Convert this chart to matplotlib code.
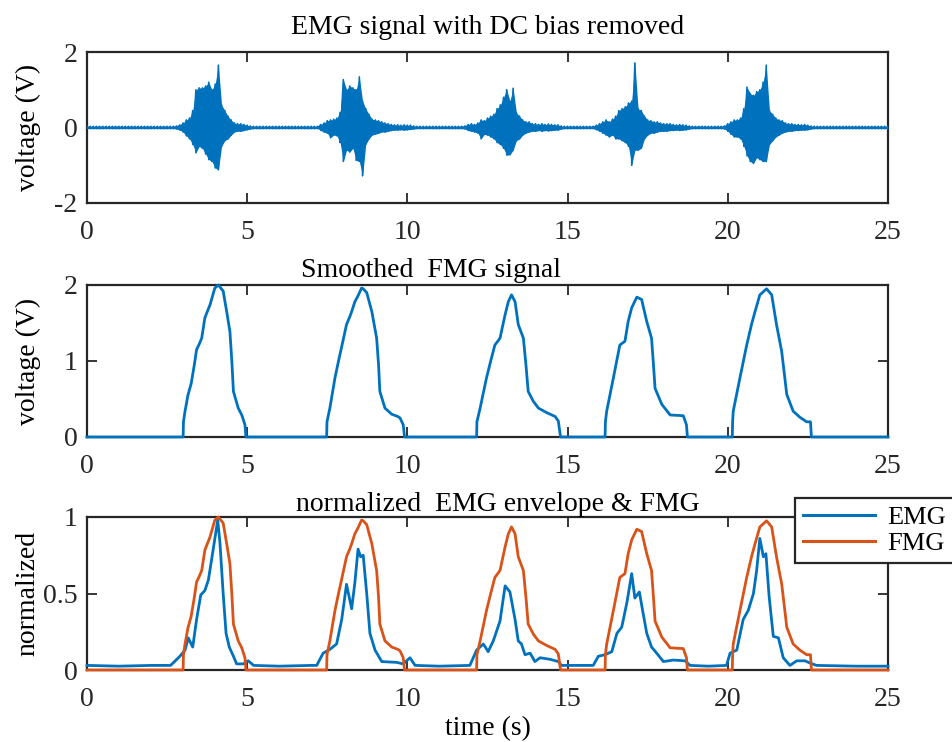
import numpy as np
import matplotlib
matplotlib.use("Agg")
import matplotlib.pyplot as plt

plt.rcParams['font.family'] = ['Liberation Serif', 'DejaVu Serif']

BLUE = '#0072BD'
ORANGE = '#D95319'
DARK = '#262626'

# ---------------- data ----------------
# Raw EMG (DC removed): upper / lower excursions sampled every 0.1 s from 0 to 25 s
emg_raw_hi = [
    0.03, 0.03, 0.03, 0.03, 0.03, 0.03, 0.03, 0.03, 0.03, 0.03,
    0.03, 0.03, 0.03, 0.03, 0.03, 0.03, 0.03, 0.03, 0.03, 0.03,
    0.03, 0.03, 0.03, 0.03, 0.03, 0.03, 0.03, 0.03, 0.04, 0.07,
    0.12, 0.20, 0.25, 0.45, 1.00, 1.05, 1.05, 1.10, 1.20, 1.00,
    1.15, 1.65, 0.60, 0.45, 0.30, 0.20, 0.12, 0.10, 0.10, 0.08,
    0.06, 0.04, 0.03, 0.03, 0.03, 0.03, 0.03, 0.03, 0.03, 0.03,
    0.03, 0.03, 0.03, 0.03, 0.03, 0.03, 0.03, 0.03, 0.03, 0.03,
    0.03, 0.03, 0.03, 0.08, 0.12, 0.18, 0.20, 0.22, 0.25, 0.40,
    1.27, 1.00, 1.10, 1.05, 1.00, 1.34, 0.70, 0.50, 0.35, 0.22,
    0.20, 0.18, 0.15, 0.12, 0.10, 0.08, 0.07, 0.07, 0.06, 0.07,
    0.06, 0.06, 0.04, 0.03, 0.03, 0.03, 0.03, 0.03, 0.03, 0.03,
    0.03, 0.03, 0.03, 0.03, 0.03, 0.03, 0.03, 0.03, 0.04, 0.08,
    0.10, 0.08, 0.12, 0.20, 0.18, 0.25, 0.30, 0.35, 0.50, 0.60,
    0.80, 1.00, 0.70, 1.04, 0.40, 0.30, 0.20, 0.15, 0.15, 0.10,
    0.10, 0.08, 0.10, 0.08, 0.09, 0.08, 0.07, 0.07, 0.04, 0.03,
    0.03, 0.03, 0.03, 0.03, 0.03, 0.03, 0.03, 0.03, 0.03, 0.06,
    0.10, 0.15, 0.20, 0.15, 0.22, 0.30, 0.45, 0.50, 0.55, 0.65,
    0.70, 1.71, 0.50, 0.45, 0.30, 0.20, 0.18, 0.15, 0.15, 0.12,
    0.10, 0.10, 0.10, 0.08, 0.07, 0.08, 0.07, 0.06, 0.04, 0.03,
    0.03, 0.03, 0.03, 0.03, 0.03, 0.03, 0.03, 0.03, 0.03, 0.04,
    0.10, 0.15, 0.20, 0.20, 0.25, 0.50, 1.07, 0.90, 0.85, 0.95,
    1.00, 1.20, 1.65, 0.45, 0.35, 0.25, 0.20, 0.18, 0.12, 0.10,
    0.10, 0.08, 0.08, 0.07, 0.08, 0.06, 0.04, 0.03, 0.03, 0.03,
    0.03, 0.03, 0.03, 0.03, 0.03, 0.03, 0.03, 0.03, 0.03, 0.03,
    0.03, 0.03, 0.03, 0.03, 0.03, 0.03, 0.03, 0.03, 0.03, 0.03,
    0.03,
]
emg_raw_lo = [
    -0.03, -0.03, -0.03, -0.03, -0.03, -0.03, -0.03, -0.03, -0.03, -0.03,
    -0.03, -0.03, -0.03, -0.03, -0.03, -0.03, -0.03, -0.03, -0.03, -0.03,
    -0.03, -0.03, -0.03, -0.03, -0.03, -0.03, -0.03, -0.03, -0.04, -0.07,
    -0.12, -0.22, -0.30, -0.45, -0.67, -0.50, -0.55, -0.70, -0.85, -0.90,
    -1.07, -1.12, -0.50, -0.35, -0.30, -0.20, -0.12, -0.10, -0.10, -0.08,
    -0.06, -0.04, -0.03, -0.03, -0.03, -0.03, -0.03, -0.03, -0.03, -0.03,
    -0.03, -0.03, -0.03, -0.03, -0.03, -0.03, -0.03, -0.03, -0.03, -0.03,
    -0.03, -0.03, -0.03, -0.08, -0.12, -0.15, -0.27, -0.20, -0.22, -0.40,
    -0.90, -0.60, -0.65, -0.55, -0.87, -0.90, -1.28, -0.45, -0.30, -0.20,
    -0.18, -0.15, -0.12, -0.12, -0.10, -0.08, -0.07, -0.07, -0.06, -0.07,
    -0.06, -0.05, -0.04, -0.03, -0.03, -0.03, -0.03, -0.03, -0.03, -0.03,
    -0.03, -0.03, -0.03, -0.03, -0.03, -0.03, -0.03, -0.03, -0.04, -0.08,
    -0.10, -0.12, -0.15, -0.30, -0.18, -0.20, -0.25, -0.30, -0.40, -0.45,
    -0.55, -0.73, -0.72, -0.60, -0.35, -0.30, -0.20, -0.15, -0.12, -0.10,
    -0.10, -0.08, -0.10, -0.08, -0.09, -0.08, -0.07, -0.07, -0.04, -0.03,
    -0.03, -0.03, -0.03, -0.03, -0.03, -0.03, -0.03, -0.03, -0.03, -0.06,
    -0.10, -0.15, -0.20, -0.25, -0.20, -0.30, -0.30, -0.35, -0.40, -0.50,
    -1.00, -0.60, -0.60, -0.55, -0.30, -0.20, -0.15, -0.15, -0.12, -0.10,
    -0.10, -0.10, -0.08, -0.08, -0.07, -0.08, -0.07, -0.06, -0.04, -0.03,
    -0.03, -0.03, -0.03, -0.03, -0.03, -0.03, -0.03, -0.03, -0.03, -0.04,
    -0.10, -0.18, -0.25, -0.25, -0.30, -0.50, -0.75, -0.90, -0.95, -0.80,
    -0.85, -0.90, -0.90, -0.45, -0.35, -0.25, -0.20, -0.15, -0.12, -0.10,
    -0.10, -0.08, -0.08, -0.07, -0.07, -0.06, -0.04, -0.03, -0.03, -0.03,
    -0.03, -0.03, -0.03, -0.03, -0.03, -0.03, -0.03, -0.03, -0.03, -0.03,
    -0.03, -0.03, -0.03, -0.03, -0.03, -0.03, -0.03, -0.03, -0.03, -0.03,
    -0.03,
]

# Smoothed FMG signal (V)
fmg_t = [0.00, 3.00, 3.01, 3.06, 3.15, 3.21, 3.25, 3.35, 3.42, 3.50, 3.58, 3.68,
         3.84, 3.99, 4.10, 4.25, 4.36, 4.46, 4.52, 4.57, 4.72, 4.83, 4.93, 4.96,
         7.48, 7.49, 7.58, 7.74, 7.85, 7.95, 8.10, 8.20, 8.26, 8.36, 8.45, 8.57,
         8.62, 8.73, 8.89, 9.04, 9.10, 9.14, 9.30, 9.51, 9.70, 9.77, 9.87, 9.91,
         12.16, 12.17, 12.27, 12.47, 12.60, 12.73, 12.89, 13.05, 13.15, 13.25,
         13.36, 13.46, 13.62, 13.70, 13.77, 13.93, 14.09, 14.35, 14.61, 14.71, 14.78,
         16.17, 16.18, 16.22, 16.43, 16.63, 16.79, 16.89, 17.00, 17.16, 17.31,
         17.47, 17.62, 17.68, 17.73, 17.94, 18.20, 18.61, 18.71, 18.74,
         20.14, 20.15, 20.17, 20.38, 20.59, 20.74, 20.85, 21.00, 21.21, 21.37,
         21.52, 21.68, 21.76, 21.84, 22.04, 22.25, 22.46, 22.58, 22.61, 25.00]
fmg_v = [0.00, 0.00, 0.20, 0.34, 0.55, 0.64, 0.70, 0.95, 1.15, 1.22, 1.30, 1.57,
         1.74, 1.96, 2.00, 1.92, 1.65, 1.39, 1.00, 0.60, 0.38, 0.29, 0.16, 0.00,
         0.00, 0.20, 0.38, 0.78, 1.00, 1.19, 1.48, 1.58, 1.65, 1.78, 1.85, 1.96,
         1.95, 1.90, 1.65, 1.30, 0.95, 0.60, 0.38, 0.30, 0.27, 0.25, 0.16, 0.00,
         0.00, 0.20, 0.38, 0.78, 1.00, 1.21, 1.30, 1.61, 1.78, 1.87,
         1.78, 1.48, 1.30, 0.95, 0.60, 0.47, 0.38, 0.32, 0.27, 0.21, 0.00,
         0.00, 0.20, 0.34, 0.78, 1.21, 1.26, 1.52, 1.70, 1.84, 1.81,
         1.52, 1.30, 0.95, 0.64, 0.43, 0.29, 0.28, 0.16, 0.00,
         0.00, 0.20, 0.34, 0.78, 1.21, 1.48, 1.65, 1.87, 1.95, 1.87,
         1.48, 1.13, 0.85, 0.56, 0.34, 0.26, 0.20, 0.20, 0.00, 0.00]

# EMG envelope (normalized)
env_t = [0.00, 1.00, 2.00, 2.61, 2.90, 3.06, 3.16, 3.30, 3.42, 3.55, 3.68, 3.79,
         3.94, 4.08, 4.15, 4.25, 4.34, 4.44, 4.57, 4.67, 4.88, 5.03, 5.20, 6.00,
         7.00, 7.17, 7.37, 7.58, 7.79, 7.95, 8.10, 8.26, 8.36, 8.46, 8.54, 8.62,
         8.73, 8.83, 8.99, 9.20, 9.66, 9.87, 10.08, 10.24, 11.00, 11.95, 12.16,
         12.37, 12.52, 12.68, 12.89, 13.05, 13.20, 13.36, 13.46, 13.56, 13.67,
         13.83, 13.98, 14.14, 14.45, 14.71, 14.81, 15.30, 15.80, 15.96, 16.17,
         16.38, 16.54, 16.69, 16.85, 17.00, 17.10, 17.24, 17.34, 17.47, 17.62,
         17.78, 17.99, 18.30, 18.67, 18.82, 19.40, 19.96, 20.07, 20.28, 20.48,
         20.64, 20.80, 20.90, 21.00, 21.11, 21.19, 21.29, 21.42, 21.58, 21.73,
         21.94, 22.15, 22.41, 22.57, 22.77, 24.00, 25.00]
env_v = [0.030, 0.025, 0.030, 0.030, 0.090, 0.130, 0.210, 0.150, 0.330, 0.490, 0.520, 0.590,
         0.790, 0.980, 0.830, 0.500, 0.240, 0.150, 0.090, 0.040, 0.040, 0.060, 0.030, 0.025,
         0.030, 0.030, 0.110, 0.135, 0.170, 0.330, 0.560, 0.400, 0.570, 0.790, 0.740, 0.750,
         0.500, 0.240, 0.130, 0.055, 0.050, 0.040, 0.080, 0.030, 0.025, 0.030, 0.130,
         0.170, 0.120, 0.190, 0.320, 0.550, 0.510, 0.330, 0.190, 0.170, 0.100,
         0.110, 0.055, 0.080, 0.070, 0.055, 0.030, 0.030, 0.030, 0.090, 0.100,
         0.120, 0.240, 0.280, 0.440, 0.630, 0.470, 0.510, 0.390, 0.240, 0.150,
         0.110, 0.055, 0.065, 0.060, 0.030, 0.025, 0.030, 0.110, 0.130, 0.330,
         0.390, 0.500, 0.650, 0.860, 0.740, 0.760, 0.480, 0.220, 0.210, 0.080,
         0.030, 0.060, 0.060, 0.045, 0.030, 0.025, 0.025]

x_ticks = [0, 5, 10, 15, 20, 25]
titles = ["EMG signal with DC bias removed", "Smoothed  FMG signal",
          "normalized  EMG envelope & FMG"]
legend_labels = ["EMG", "FMG"]

# ---------------- figure ----------------
W, H = 952, 742
fig = plt.figure(figsize=(W / 100, H / 100), dpi=100)


def ax_rect(left, top, right, bottom):
    return [left / W, 1 - bottom / H, (right - left) / W, (bottom - top) / H]


ax1 = fig.add_axes(ax_rect(87, 52, 888, 203))
ax2 = fig.add_axes(ax_rect(87, 285, 888, 437))
ax3 = fig.add_axes(ax_rect(87, 517, 888, 670))

FS = 20


def style(ax, yticks, ylim):
    ax.set_xlim(0, 25)
    ax.set_ylim(*ylim)
    ax.set_xticks(x_ticks)
    ax.set_yticks(yticks)
    ax.tick_params(direction='in', length=7, width=1.3, top=True, right=True,
                   labelsize=FS, colors=DARK)
    ax.tick_params(axis='x', pad=12)
    ax.tick_params(axis='y', pad=7)
    for s in ax.spines.values():
        s.set_linewidth(1.6)
        s.set_color(DARK)


# Top: raw EMG
t_raw = np.linspace(0, 25, len(emg_raw_hi))
ax1.fill_between(t_raw, emg_raw_lo, emg_raw_hi, color=BLUE, lw=0, zorder=3)
xz = np.repeat(t_raw, 2)
yz = np.column_stack([emg_raw_hi, emg_raw_lo]).ravel()
ax1.plot(xz, yz, color=BLUE, lw=1.2, zorder=3)
style(ax1, [-2, 0, 2], (-2, 2))
ax1.set_yticklabels(['-2', '0', '2'])
ax1.set_ylabel("voltage (V)", fontsize=FS)
ax1.yaxis.set_label_coords(-0.058, 0.5)
ax1.text(0.5, 1.08, titles[0], transform=ax1.transAxes, ha='center', va='bottom',
         fontsize=FS, color='black')

# Middle: smoothed FMG
ax2.plot(fmg_t, fmg_v, color=BLUE, lw=2.0, zorder=3, clip_on=False)
style(ax2, [0, 1, 2], (0, 2))
ax2.set_ylabel("voltage (V)", fontsize=FS)
ax2.yaxis.set_label_coords(-0.058, 0.5)
ax2.text(0.43, 1.015, titles[1], transform=ax2.transAxes, ha='center', va='bottom',
         fontsize=FS, color='black')

# Bottom: normalized
fmg_arr = np.asarray(fmg_v)
fmg_norm = fmg_arr / fmg_arr.max()
l1, = ax3.plot(env_t, env_v, color=BLUE, lw=2.0, zorder=3, clip_on=False)
l2, = ax3.plot(fmg_t, fmg_norm, color=ORANGE, lw=2.0, zorder=3, clip_on=False)
style(ax3, [0, 0.5, 1], (0, 1))
ax3.set_yticklabels(['0', '0.5', '1'])
ax3.set_ylabel("normalized", fontsize=FS)
ax3.yaxis.set_label_coords(-0.058, 0.5)
ax3.set_xlabel("time (s)", fontsize=FS, labelpad=3)
ax3.text(0.513, 1.0, titles[2], transform=ax3.transAxes, ha='center', va='bottom',
         fontsize=FS, color='black')

leg = fig.legend([l1, l2], legend_labels, loc='upper left',
                 bbox_to_anchor=(795 / W, 1 - 498 / H), fontsize=19,
                 frameon=True, fancybox=False, framealpha=1, edgecolor=DARK,
                 handlelength=2.75, handletextpad=0.45, borderpad=0.3,
                 labelspacing=0.1, borderaxespad=0)
leg.get_frame().set_linewidth(1.6)
for h in leg.legend_handles:
    h.set_linewidth(2.2)

fig.savefig("out.png", dpi=100)
